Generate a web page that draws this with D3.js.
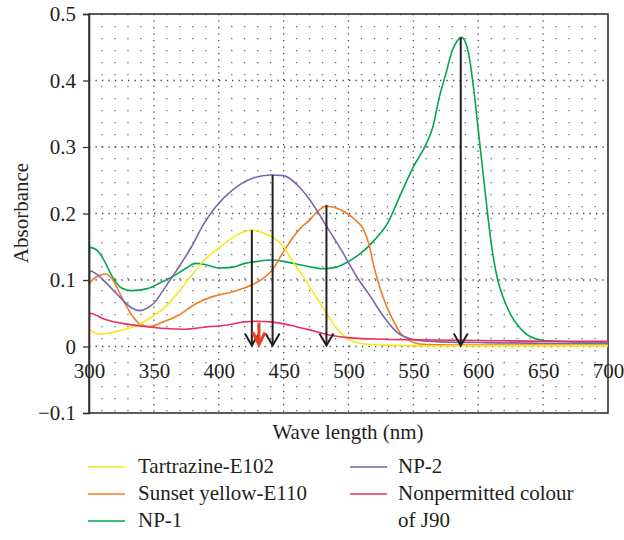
<!DOCTYPE html>
<html><head><meta charset="utf-8">
<script src="https://cdn.jsdelivr.net/npm/d3@7/dist/d3.min.js"></script>
<style>body{margin:0;background:#fff}svg{display:block}text{font-family:"Liberation Serif","Times New Roman",serif;fill:#231f20}</style>
</head><body><svg id="c" width="624" height="540"></svg>
<script>
// ---- data ----
const seriesNames = ["Tartrazine-E102","Sunset yellow-E110","NP-1","NP-2","Nonpermitted colour of J90"];
const seriesColors = ["#f5e91a","#f47b24","#00a651","#7f62b1","#ec2f5c"];
const tartrazineX = [300,307,315,328,338,348,359,369,379,389,400,410,420,425,434,442,450,457,465,475,483,491,499,509,527,560,700];
const tartrazineY = [0.026,0.019,0.020,0.026,0.032,0.044,0.060,0.082,0.107,0.130,0.148,0.163,0.173,0.175,0.171,0.164,0.150,0.128,0.105,0.075,0.050,0.027,0.012,0.005,0.002,0.001,0.001];
const sunsetX = [300,300.5,307,313,318,325,333,340,347,356,369,382,395,410,425,434,442,450,463,470,476,483,491,499,506,511,516,519,524,529,533,537,540,545,550,560,600,700];
const sunsetY = [0,0.095,0.106,0.109,0.101,0.075,0.047,0.033,0.030,0.036,0.047,0.064,0.075,0.082,0.092,0.102,0.117,0.143,0.178,0.190,0.203,0.211,0.208,0.200,0.189,0.178,0.152,0.125,0.090,0.062,0.045,0.030,0.020,0.012,0.006,0.003,0.002,0.002];
const np1X = [300,300.5,307,312,318,325,333,345,355,366,375,382,390,400,410,420,430,440,450,460,470,480,490,500,510,520,530,540,550,560,565,570,575,580,584,587,590,593,596,600,605,610,615,620,625,630,635,640,650,660,680,700];
const np1Y = [0,0.149,0.143,0.128,0.105,0.088,0.084,0.087,0.096,0.107,0.118,0.125,0.123,0.118,0.119,0.125,0.128,0.130,0.128,0.124,0.120,0.117,0.119,0.128,0.141,0.160,0.185,0.228,0.270,0.305,0.330,0.375,0.410,0.445,0.460,0.465,0.458,0.436,0.395,0.326,0.238,0.155,0.100,0.070,0.048,0.033,0.022,0.015,0.009,0.008,0.007,0.007];
const np2X = [300,300.5,305,312,322,333,339,345,350,358,368,379,388,398,411,426,440,450,460,470,483,496,506,517,527,537,547,555,570,600,650,700];
const np2Y = [0,0.114,0.110,0.098,0.078,0.058,0.054,0.058,0.065,0.087,0.116,0.150,0.183,0.211,0.236,0.253,0.258,0.257,0.244,0.221,0.181,0.140,0.106,0.075,0.045,0.022,0.012,0.009,0.007,0.006,0.005,0.005];
const j90X = [300,300.5,312,328,343,359,374,389,405,420,430,440,455,470,486,501,527,553,600,650,700];
const j90Y = [0,0.050,0.041,0.034,0.030,0.027,0.026,0.029,0.032,0.037,0.038,0.037,0.032,0.025,0.017,0.013,0.011,0.010,0.009,0.008,0.008];
const arrowX = [425.5, 441.5, 483, 586.5];
const arrowTop = [0.175, 0.258, 0.213, 0.465];
const redArrowX = [431];
const redArrowTop = [0.036];
const xTicks = [300,350,400,450,500,550,600,650,700];
const yTicks = [-0.1,0,0.1,0.2,0.3,0.4,0.5];

// ---- layout ----
const svg = d3.select("#c");
const L = 89, R = 608, T = 14, B = 413;
const FS = "21px";
const x = d3.scaleLinear().domain([300,700]).range([L,R]);
const y = d3.scaleLinear().domain([-0.1,0.5]).range([B,T]);
const g = svg.append("g");

// minor vertical grid (every 10 nm)
const minor = d3.range(310,700,10).filter(v => v % 50 !== 0);
g.selectAll(".mv").data(minor).join("line")
  .attr("x1", d=>x(d)).attr("x2", d=>x(d)).attr("y1", T).attr("y2", B)
  .attr("stroke","#666").attr("stroke-width",1.3).attr("stroke-dasharray","1.3,10.7");
// major vertical grid
g.selectAll(".Mv").data(xTicks.filter(v=>v>300 && v<700)).join("line")
  .attr("x1", d=>x(d)).attr("x2", d=>x(d)).attr("y1", T).attr("y2", B)
  .attr("stroke","#444").attr("stroke-width",1.3).attr("stroke-dasharray","1.3,5.2");
// major horizontal grid
g.selectAll(".Mh").data(yTicks.filter(v=>v>-0.1 && v<0.5)).join("line")
  .attr("x1", L).attr("x2", R).attr("y1", d=>y(d)).attr("y2", d=>y(d))
  .attr("stroke","#444").attr("stroke-width",1.3).attr("stroke-dasharray","1.3,5.2");

// frame
g.append("rect").attr("x",L).attr("y",T).attr("width",R-L).attr("height",B-T)
  .attr("fill","none").attr("stroke","#333").attr("stroke-width",1.6);

// y axis
const yAxis = d3.axisLeft(y).tickValues(yTicks).tickSize(6)
  .tickFormat(d => d < 0 ? "\u2212" + Math.abs(d) : (d === 0 ? "0" : String(+d.toFixed(1))));
const ya = svg.append("g").attr("transform",`translate(${L},0)`).call(yAxis);
ya.select(".domain").attr("stroke","#333").attr("stroke-width",1.6);
ya.selectAll(".tick line").attr("stroke","#333").attr("stroke-width",1.3);
ya.selectAll(".tick text").attr("x",-13).style("font-size",FS).style("font-family","'Liberation Serif',serif").attr("fill","#231f20");

// x tick labels at y = 0
const xa = svg.append("g").attr("transform",`translate(0,${y(0)})`).call(d3.axisBottom(x).tickValues(xTicks).tickSize(0).tickFormat(d3.format("d")));
xa.select(".domain").remove();
xa.selectAll(".tick text").attr("dy","0").attr("y",31).style("font-size",FS).style("font-family","'Liberation Serif',serif").attr("fill","#231f20");

// series
const line = d3.line().x(d=>x(d[0])).y(d=>y(d[1])).curve(d3.curveMonotoneX);
const sets = [
  {xs:np1X, ys:np1Y, c:seriesColors[2]},
  {xs:sunsetX, ys:sunsetY, c:seriesColors[1]},
  {xs:tartrazineX, ys:tartrazineY, c:seriesColors[0]},
  {xs:np2X, ys:np2Y, c:seriesColors[3]},
  {xs:j90X, ys:j90Y, c:seriesColors[4]}
];
sets.forEach(s => {
  g.append("path").datum(s.xs.map((v,i)=>[v,s.ys[i]])).attr("d",line)
    .attr("fill","none").attr("stroke",s.c).attr("stroke-width",1.6);
});

// black arrows
arrowX.forEach((ax,i) => {
  const px = x(ax), p0 = y(0);
  g.append("line").attr("x1",px).attr("x2",px).attr("y1",y(arrowTop[i])).attr("y2",p0-1)
    .attr("stroke","#231f20").attr("stroke-width",2);
  g.append("path").attr("d",`M${px-7},${p0-13} L${px},${p0-1} L${px+7},${p0-13}`)
    .attr("fill","none").attr("stroke","#231f20").attr("stroke-width",2);
});
// red arrow
redArrowX.forEach((ax,i) => {
  const px = x(ax), p0 = y(0);
  g.append("line").attr("x1",px).attr("x2",px).attr("y1",y(redArrowTop[i])).attr("y2",p0-3)
    .attr("stroke","#f03c22").attr("stroke-width",3);
  g.append("path").attr("d",`M${px-6},${p0-14} L${px},${p0-2} L${px+6},${p0-14}`)
    .attr("fill","none").attr("stroke","#f03c22").attr("stroke-width",3);
});

// axis titles
svg.append("text").attr("x",348).attr("y",439).attr("text-anchor","middle").style("font-size",FS).text("Wave length (nm)");
svg.append("text").attr("transform","translate(28,213) rotate(-90)").attr("text-anchor","middle").style("font-size",FS).text("Absorbance");

// legend
const legCols = [
  {lx:88, tx:138, items:[[0,["Tartrazine-E102"]],[1,["Sunset yellow-E110"]],[2,["NP-1"]]]},
  {lx:350, tx:398, items:[[3,["NP-2"]],[4,["Nonpermitted colour","of J90"]]]}
];
const rowY = [467, 494, 521];
legCols.forEach(col => {
  let r = 0;
  col.items.forEach(([si, lines]) => {
    svg.append("line").attr("x1",col.lx).attr("x2",col.lx+37).attr("y1",rowY[r]).attr("y2",rowY[r])
      .attr("stroke",seriesColors[si]).attr("stroke-width",1.6);
    lines.forEach((t,k) => {
      svg.append("text").attr("x",col.tx).attr("y",rowY[r+k]+6).style("font-size",FS).text(t);
    });
    r += lines.length;
  });
});
</script></body></html>
